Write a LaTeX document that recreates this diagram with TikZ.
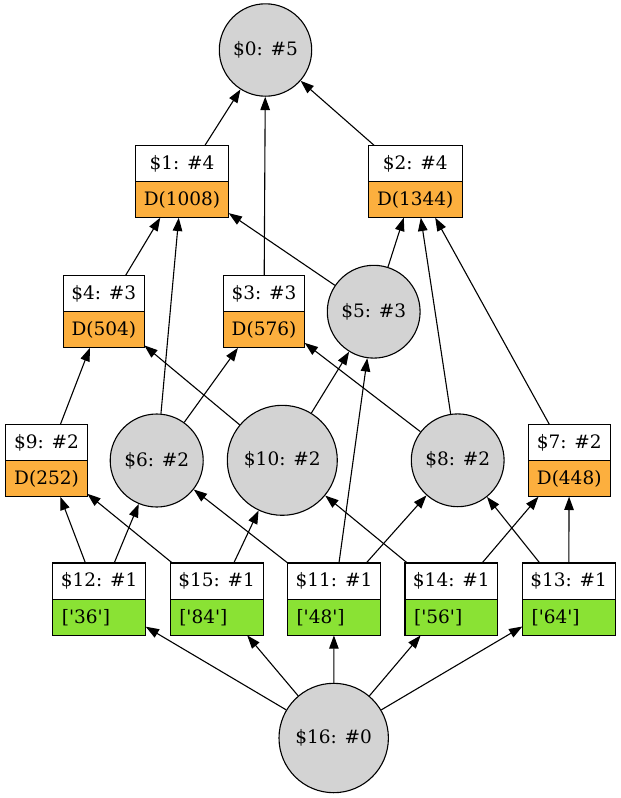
\documentclass[tikz,border=0pt]{standalone}
\usepackage{fontspec}
\newfontfamily\lblfont{DejaVu Serif}
\usetikzlibrary{arrows.meta}
\definecolor{recorange}{HTML}{FCAF3E}
\definecolor{recgreen}{HTML}{8AE234}
\definecolor{circgray}{HTML}{D3D3D3}
\tikzset{
  lbl/.style={font=\lblfont\fontsize{18.5}{22}\selectfont, inner sep=0pt},
  circ/.style={circle, draw, line width=1.1pt, fill=circgray, inner sep=0pt, lbl},
  recbox/.style={rectangle, minimum height=72.4pt, inner sep=0pt, outer sep=0pt},
  cell/.style={rectangle, draw, line width=1.1pt, minimum height=36.2pt, inner sep=0pt, outer sep=0pt, lbl},
  edge/.style={line width=1.1pt, -{Triangle[length=13.3pt,width=9.5pt]}},
}
\newcommand\myrec[7]{%
  \node[recbox, minimum width=#4pt] (#1) at (#2,#3) {};
  \node[cell, fill=white, minimum width=#4pt, anchor=south] (#1t) at (#1.center) {#5};
  \node[cell, fill=#7, minimum width=#4pt, anchor=north] (#1b) at (#1.center) {#6};
}
\newcommand\myrecl[6]{%
  \node[recbox, minimum width=#4pt] (#1) at (#2,#3) {};
  \node[cell, fill=white, minimum width=#4pt, anchor=south] (#1t) at (#1.center) {#5};
  \node[cell, fill=recgreen, minimum width=#4pt, anchor=north] (#1b) at (#1.center) {};
  \node[lbl, anchor=west] (#1l) at ([xshift=9pt]#1b.west) {#6};
}
\begin{document}
\begin{tikzpicture}[x=1pt,y=-1pt]
\useasboundingbox (0,0) rectangle (621,798);
% circles
\node[circ, minimum size=92.4pt] (n0) at (265.5,50) {\$0: \#5};
\node[circ, minimum size=92.8pt] (n5) at (373.7,311.7) {\$5: \#3};
\node[circ, minimum size=93pt] (n6) at (156.7,460.5) {\$6: \#2};
\node[circ, minimum size=110pt] (n10) at (282.3,460.3) {\$10: \#2};
\node[circ, minimum size=92.8pt] (n8) at (457.7,460.3) {\$8: \#2};
\node[circ, minimum size=109.4pt] (n16) at (333.7,738) {\$16: \#0};
% records
\myrec{n1}{182}{181.5}{93.4}{\$1: \#4}{D(1008)}{recorange}
\myrec{n2}{415.3}{181.5}{94}{\$2: \#4}{D(1344)}{recorange}
\myrec{n4}{103.8}{311.7}{81}{\$4: \#3}{D(504)}{recorange}
\myrec{n3}{264}{311.7}{81.4}{\$3: \#3}{D(576)}{recorange}
\myrec{n9}{46.5}{460.5}{81.6}{\$9: \#2}{D(252)}{recorange}
\myrec{n7}{569.2}{460.5}{81.7}{\$7: \#2}{D(448)}{recorange}
\myrecl{n12}{99.2}{599.2}{93}{\$12: \#1}{['36']}
\myrecl{n15}{216.7}{599.2}{93.3}{\$15: \#1}{['84']}
\myrecl{n11}{334}{599.2}{93.4}{\$11: \#1}{['48']}
\myrecl{n14}{451.3}{599.2}{92.7}{\$14: \#1}{['56']}
\myrecl{n13}{568.7}{599.2}{92.7}{\$13: \#1}{['64']}
% edges
\draw[edge] (n1) -- (n0);
\draw[edge] (n3) -- (n0);
\draw[edge] (n2) -- (n0);
\draw[edge] (n4) -- (n1);
\draw[edge] (n6) -- (n1);
\draw[edge] (n5) -- (n1);
\draw[edge] (n5) -- (n2);
\draw[edge] (n8) -- (n2);
\draw[edge] (n7) -- (n2);
\draw[edge] (n9) -- (n4);
\draw[edge] (n10) -- (n4);
\draw[edge] (n6) -- (n3);
\draw[edge] (n8) -- (n3);
\draw[edge] (n10) -- (n5);
\draw[edge] (n11) -- (n5);
\draw[edge] (n12) -- (n9);
\draw[edge] (n15) -- (n9);
\draw[edge] (n12) -- (n6);
\draw[edge] (n11) -- (n6);
\draw[edge] (n15) -- (n10);
\draw[edge] (n14) -- (n10);
\draw[edge] (n11) -- (n8);
\draw[edge] (n13) -- (n8);
\draw[edge] (n14) -- (n7);
\draw[edge] (n13) -- (n7);
\draw[edge] (n16) -- (n12);
\draw[edge] (n16) -- (n15);
\draw[edge] (n16) -- (n11);
\draw[edge] (n16) -- (n14);
\draw[edge] (n16) -- (n13);
\end{tikzpicture}
\end{document}
